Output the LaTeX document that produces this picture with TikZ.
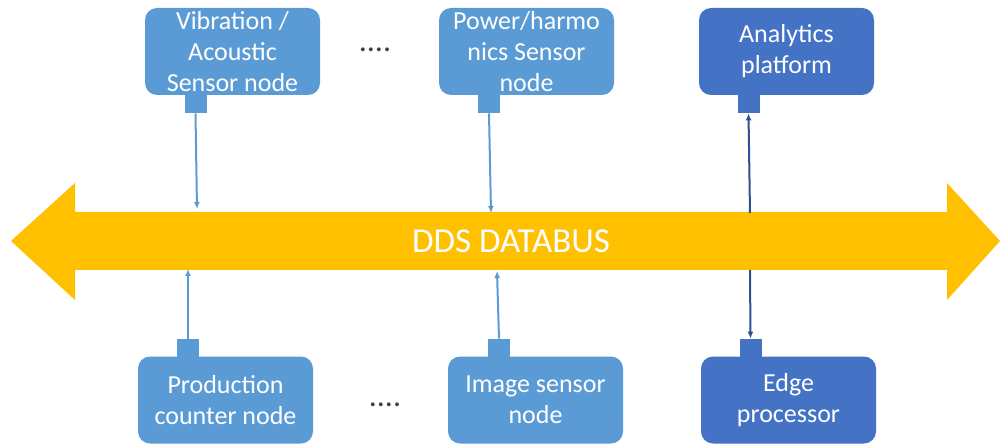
\documentclass[tikz,border=0pt]{standalone}
\usepackage{fontspec}
\setmainfont{Carlito}
\usetikzlibrary{arrows.meta}
\definecolor{lightb}{HTML}{5B9BD5}
\definecolor{darkb}{HTML}{4472C4}
\definecolor{darkline}{HTML}{2F4F8F}
\definecolor{gold}{HTML}{FFC000}
\definecolor{dotc}{HTML}{404040}
\tikzset{
  box/.style={rounded corners=12pt, minimum width=175pt, minimum height=87pt, inner sep=0pt,
    text=white, align=center, font=\fontsize{26}{31}\selectfont},
  lbox/.style={box, fill=lightb},
  dbox/.style={box, fill=darkb},
  port/.style={minimum width=22pt, minimum height=18pt, inner sep=0pt},
  lport/.style={port, fill=lightb},
  dport/.style={port, fill=darkb},
  lconn/.style={draw=lightb, line width=2pt, -{Latex[length=7pt,width=6pt]}},
  dconn/.style={draw=darkline, line width=2pt, -{Latex[length=7pt,width=6pt]}},
  dots/.style={text=dotc, font=\fontsize{32}{36}\selectfont, inner sep=0pt}
}
\begin{document}
\begin{tikzpicture}[x=1pt, y=-1pt]
\useasboundingbox (0,0) rectangle (1001,446);
% bus
\fill[gold] (11,241) -- (75,183) -- (75,212) -- (947,212) -- (947,183) -- (1000,241)
  -- (947,300) -- (947,270) -- (75,270) -- (75,300) -- cycle;
\node[text=white, font=\fontsize{35}{40}\selectfont] (bus) at (511,241) {DDS DATABUS};
% top boxes
\node[lbox] (vib) at (232.5,51.5) {Vibration /\\Acoustic\\Sensor node};
\node[lbox] (pow) at (526.5,51.5) {Power/harmo\\nics Sensor\\node};
\node[dbox] (ana) at (786.5,51.5) {Analytics\\platform};
\node[lport, anchor=north] (pvib) at (195.5,95) {};
\node[lport, anchor=north] (ppow) at (489,95) {};
\node[dport, anchor=north] (pana) at (748.5,95) {};
% bottom boxes
\node[lbox] (prod) at (225.5,400) {Production\\counter node};
\node[lbox] (img) at (535.5,400) {Image sensor\\node};
\node[dbox] (edge) at (788.5,400) {Edge\\processor};
\node[lport, anchor=south] (pprod) at (188,357) {};
\node[lport, anchor=south] (pimg) at (499,357) {};
\node[dport, anchor=south] (pedge) at (750.5,357) {};
% dots
\node[dots] (d1) at (375,50) {....};
\node[dots] (d2) at (385,405) {....};
% bus contact points
\coordinate (b1) at (197,209);
\coordinate (b2) at (491,213);
\coordinate (b3) at (750,213);
\coordinate (b4) at (188,269);
\coordinate (b5) at (497,271);
\coordinate (b6) at (750,270);
% connectors
\draw[lconn] (pvib.south) -- (b1);
\draw[lconn] (ppow.south) -- (b2);
\draw[dconn] (b3) -- (pana.south);
\draw[lconn] (pprod.north) -- (b4);
\draw[lconn] (pimg.north) -- (b5);
\draw[dconn] (b6) -- (pedge.north);
\end{tikzpicture}
\end{document}
